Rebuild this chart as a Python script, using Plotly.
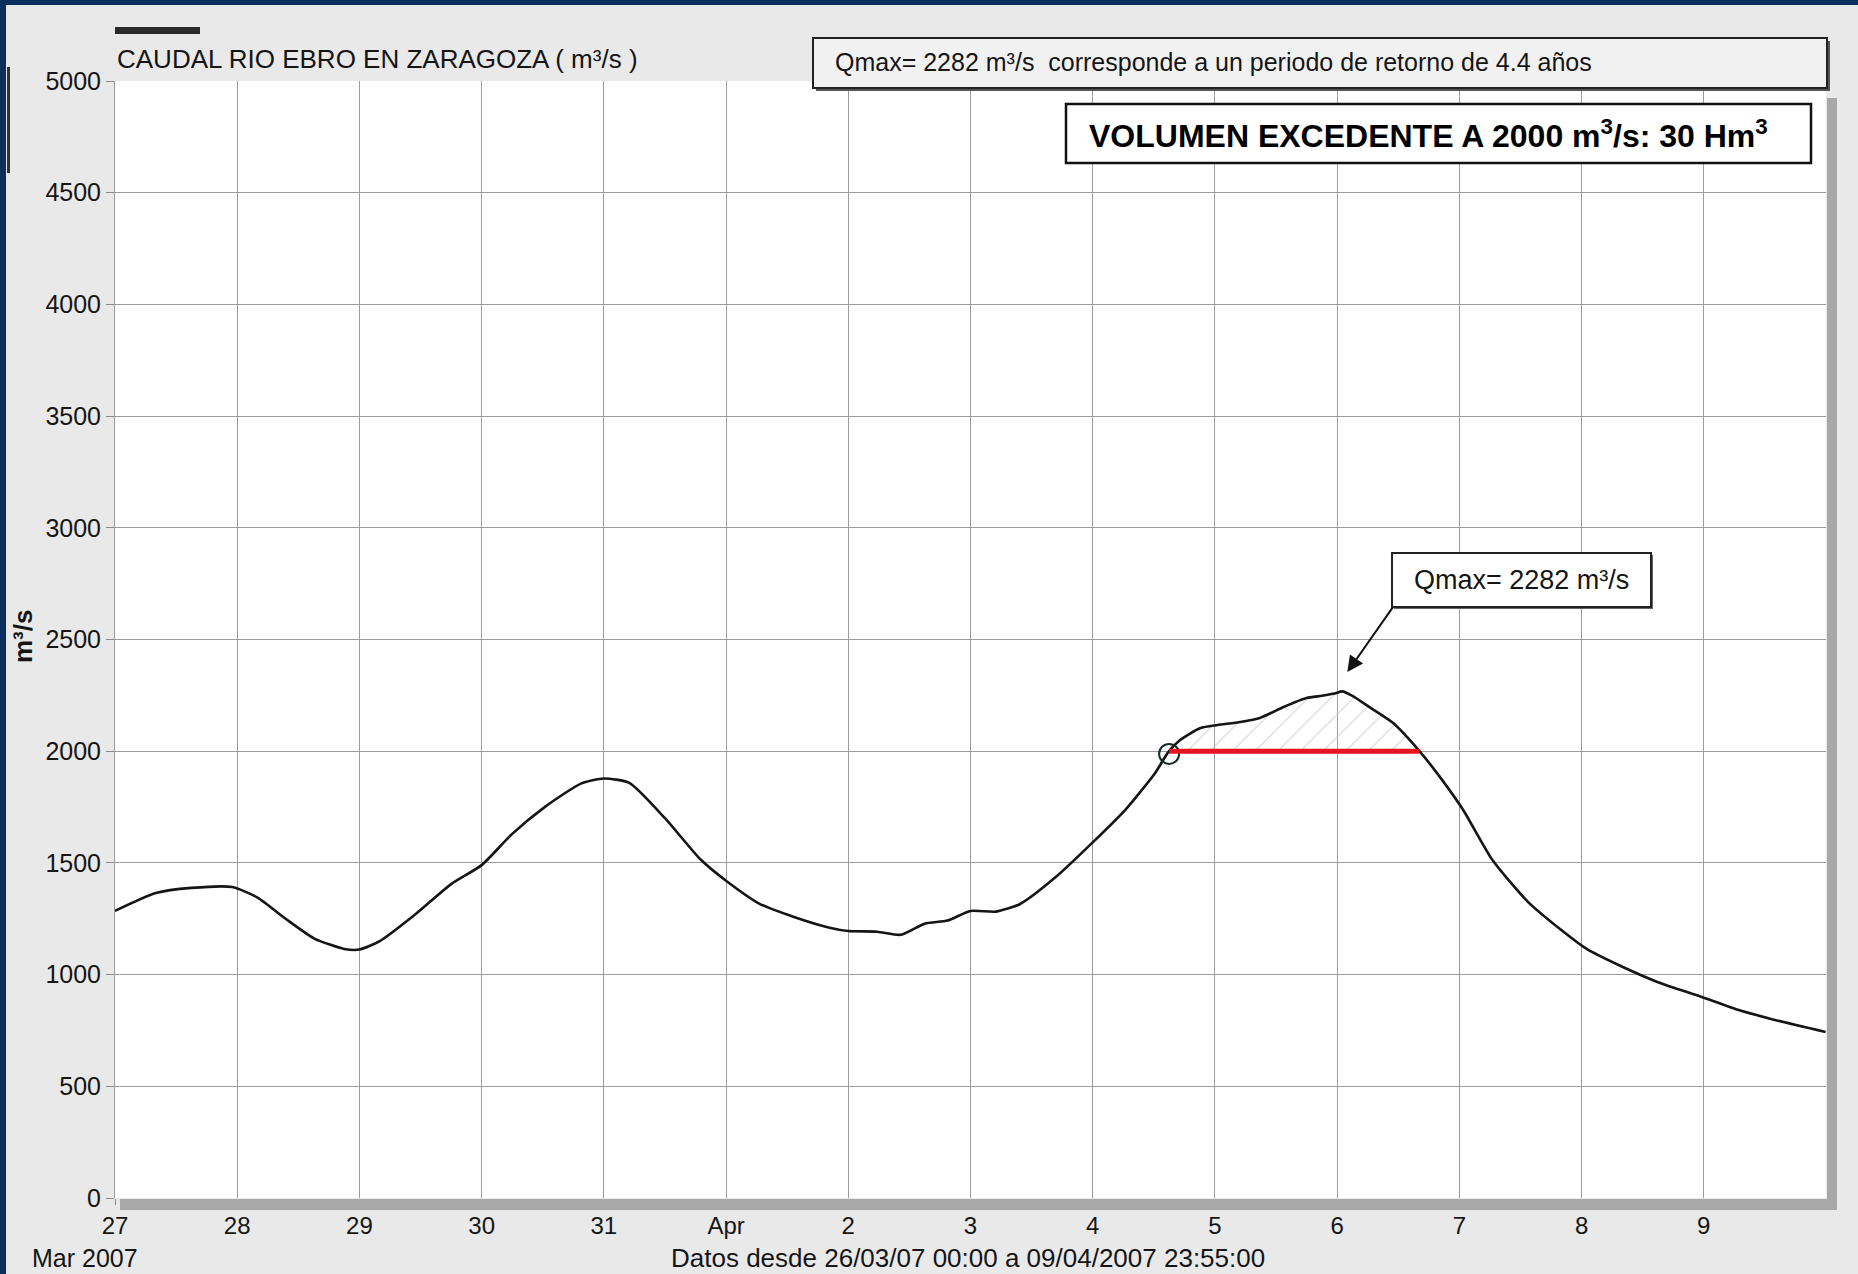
import numpy as np
import pandas as pd
import plotly.graph_objects as go

# ---------------- data ----------------
times = [
    "2007-03-27 00:00", "2007-03-27 08:00", "2007-03-27 15:00", "2007-03-27 23:00",
    "2007-03-28 04:00", "2007-03-28 09:30", "2007-03-28 15:15", "2007-03-28 21:00",
    "2007-03-29 00:00", "2007-03-29 04:00", "2007-03-29 11:00", "2007-03-29 18:00",
    "2007-03-30 00:00", "2007-03-30 06:00", "2007-03-30 12:30", "2007-03-30 19:30",
    "2007-03-31 00:00", "2007-03-31 05:00", "2007-03-31 12:00", "2007-03-31 19:00",
    "2007-04-01 00:00", "2007-04-01 06:30", "2007-04-01 13:20", "2007-04-01 20:20",
    "2007-04-02 00:00", "2007-04-02 05:40", "2007-04-02 10:20", "2007-04-02 15:00",
    "2007-04-02 19:30", "2007-04-03 00:00", "2007-04-03 05:00", "2007-04-03 09:40",
    "2007-04-03 16:30", "2007-04-04 00:00", "2007-04-04 06:30", "2007-04-04 12:20",
    "2007-04-04 14:50", "2007-04-04 17:10", "2007-04-04 21:10", "2007-04-05 00:30",
    "2007-04-05 05:00", "2007-04-05 08:50", "2007-04-05 13:30", "2007-04-05 18:00",
    "2007-04-05 21:00", "2007-04-05 23:30", "2007-04-06 01:00", "2007-04-06 03:00",
    "2007-04-06 06:30", "2007-04-06 11:00",
    "2007-04-06 16:20", "2007-04-06 20:10", "2007-04-07 00:45", "2007-04-07 06:30",
    "2007-04-07 13:25", "2007-04-07 20:20", "2007-04-08 01:00", "2007-04-08 08:00",
    "2007-04-08 15:00", "2007-04-08 23:20", "2007-04-09 07:10", "2007-04-09 14:10",
    "2007-04-09 23:55",
]
flow = [
    1285, 1365, 1388, 1392,
    1345, 1250, 1160, 1115,
    1112, 1150, 1270, 1405,
    1490, 1630, 1752, 1855,
    1878, 1858, 1700, 1515,
    1420, 1318, 1258, 1210,
    1195, 1192, 1178, 1228,
    1242, 1285, 1282, 1315,
    1432, 1592, 1740, 1905,
    1996, 2050, 2104, 2117,
    2131, 2149, 2198, 2238,
    2248, 2258, 2268, 2248,
    2195, 2126,
    1996, 1885, 1737, 1513,
    1327, 1194, 1115, 1035,
    966, 902, 839, 796,
    743,
]
day_ticks = ["2007-03-27", "2007-03-28", "2007-03-29", "2007-03-30", "2007-03-31",
             "2007-04-01", "2007-04-02", "2007-04-03", "2007-04-04", "2007-04-05",
             "2007-04-06", "2007-04-07", "2007-04-08", "2007-04-09"]
day_labels = ["27", "28", "29", "30", "31", "Apr", "2", "3", "4", "5", "6", "7", "8", "9"]
y_ticks = [0, 500, 1000, 1500, 2000, 2500, 3000, 3500, 4000, 4500, 5000]
threshold = 2000
qmax = 2282
volume_hm3 = 30
return_period = 4.4

# ---------------- derived ----------------
t = pd.to_datetime(times)
tn = t.astype("int64").to_numpy().astype(float)
v = np.array(flow, dtype=float)
above = v >= threshold
i_up = int(np.argmax(above))
i_dn = i_up + int(np.argmax(~above[i_up:]))


def crossing(i0, i1):
    frac = (threshold - v[i0]) / (v[i1] - v[i0])
    return pd.Timestamp(int(tn[i0] + frac * (tn[i1] - tn[i0])))


t_start = crossing(i_up - 1, i_up)
t_end = crossing(i_dn - 1, i_dn)
hatch_x = [t_start] + list(t[i_up:i_dn]) + [t_end]
hatch_y = [threshold] + list(v[i_up:i_dn]) + [threshold]
i_peak = int(np.argmax(v))
t_peak = t[i_peak]
v_peak = v[i_peak]

FONT = "Liberation Sans, Arial, sans-serif"
INK = "#151515"

fig = go.Figure()

# hatched excess area
fig.add_trace(go.Scatter(x=hatch_x, y=[threshold] * len(hatch_x), mode="lines",
                         line=dict(width=0), hoverinfo="skip", showlegend=False))
fig.add_trace(go.Scatter(x=hatch_x, y=hatch_y, mode="lines", fill="tonexty",
                         line=dict(width=0, shape="spline", smoothing=0.6),
                         fillcolor="rgba(0,0,0,0)",
                         fillpattern=dict(shape="/", fgcolor="#c4c4c4", bgcolor="rgba(0,0,0,0)",
                                          size=16, solidity=0.1),
                         hoverinfo="skip", showlegend=False))

# main hydrograph
fig.add_trace(go.Scatter(x=t, y=v, mode="lines",
                         line=dict(color=INK, width=2.6, shape="spline", smoothing=0.6),
                         showlegend=False))

# circle at threshold crossing
fig.add_trace(go.Scatter(x=[t_start], y=[threshold - 12], mode="markers",
                         marker=dict(symbol="circle-open", size=20, color="#1a2a2a",
                                     line=dict(width=2)),
                         showlegend=False))

shapes = []
# red threshold line
shapes.append(dict(type="line", xref="x", yref="y", x0=t_start, x1=t_end,
                   y0=threshold, y1=threshold, line=dict(color="#e8131f", width=5),
                   layer="above"))

W, H = 1858, 1274
L, R, T, B = 115, 32, 81, 76
pw, ph = W - L - R, H - T - B


def px(xp):
    return (xp - L) / pw


def py(yp):
    return (H - B - yp) / ph


# scanned-page blue borders
shapes.append(dict(type="rect", xref="paper", yref="paper", x0=px(0), x1=px(6), y0=py(H), y1=py(0),
                   fillcolor="#0a2f5e", line=dict(width=0)))
shapes.append(dict(type="rect", xref="paper", yref="paper", x0=px(0), x1=px(W), y0=py(5), y1=py(0),
                   fillcolor="#0a2f5e", line=dict(width=0)))
# small artefacts
shapes.append(dict(type="rect", xref="paper", yref="paper", x0=px(7), x1=px(10), y0=py(173), y1=py(67),
                   fillcolor="#333333", line=dict(width=0)))
shapes.append(dict(type="rect", xref="paper", yref="paper", x0=px(115), x1=px(200), y0=py(34), y1=py(27),
                   fillcolor="#2a2a2a", line=dict(width=0)))
# frame shadow (bottom and right grey bands)
shapes.append(dict(type="rect", xref="paper", yref="paper", x0=px(120), x1=px(1837), y0=py(1210), y1=py(1199),
                   fillcolor="#a8a8a8", line=dict(width=0)))
shapes.append(dict(type="rect", xref="paper", yref="paper", x0=px(1827), x1=px(1837), y0=py(1210), y1=py(98),
                   fillcolor="#a8a8a8", line=dict(width=0)))

# box 1 (return period)
shapes.append(dict(type="rect", xref="paper", yref="paper", x0=px(816), x1=px(1830), y0=py(91), y1=py(41),
                   fillcolor="#555555", line=dict(width=0), layer="above"))
shapes.append(dict(type="rect", xref="paper", yref="paper", x0=px(813), x1=px(1827), y0=py(88), y1=py(38),
                   fillcolor="#f1f1f1", line=dict(color="#222222", width=2), layer="above"))
# box 2 (volume)
shapes.append(dict(type="rect", xref="paper", yref="paper", x0=px(1066), x1=px(1811), y0=py(163), y1=py(104),
                   fillcolor="white", line=dict(color="#111111", width=2.5), layer="above"))
# box 3 (Qmax)
shapes.append(dict(type="rect", xref="paper", yref="paper", x0=px(1394), x1=px(1653), y0=py(609), y1=py(555),
                   fillcolor="#666666", line=dict(width=0), layer="above"))
shapes.append(dict(type="rect", xref="paper", yref="paper", x0=px(1392), x1=px(1651), y0=py(607), y1=py(553),
                   fillcolor="white", line=dict(color="#222222", width=2), layer="above"))

annotations = [
    dict(text="CAUDAL RIO EBRO EN ZARAGOZA ( m³/s )", xref="paper", yref="paper",
         x=px(115), y=py(59), xanchor="left", yanchor="middle", showarrow=False,
         font=dict(family=FONT, size=26, color=INK)),
    dict(text=f"Qmax= {qmax} m³/s  corresponde a un periodo de retorno de {return_period} años",
         xref="paper", yref="paper", x=px(833), y=py(62), xanchor="left", yanchor="middle",
         showarrow=False, font=dict(family=FONT, size=25, color=INK)),
    dict(text=f"<b>VOLUMEN EXCEDENTE A {threshold} m<sup>3</sup>/s: {volume_hm3} Hm<sup>3</sup></b>",
         xref="paper", yref="paper", x=px(1087), y=py(134), xanchor="left", yanchor="middle",
         showarrow=False, font=dict(family=FONT, size=32, color="#000000")),
    dict(text=f"Qmax= {qmax} m³/s", xref="paper", yref="paper", x=px(1521), y=py(580),
         xanchor="center", yanchor="middle", showarrow=False,
         font=dict(family=FONT, size=27, color=INK)),
    dict(text=" ", x=t_peak + pd.Timedelta(hours=1), y=v_peak + 86, xref="x", yref="y",
         ax=47, ay=-67, showarrow=True, arrowhead=2, arrowsize=1.6, arrowwidth=2,
         arrowcolor="#111111", standoff=0, startstandoff=0, font=dict(size=2)),
    dict(text="<b>m³/s</b>", xref="paper", yref="paper", x=px(23), y=py(637), textangle=-90,
         xanchor="center", yanchor="middle", showarrow=False,
         font=dict(family=FONT, size=26, color=INK)),
    dict(text="Mar 2007", xref="paper", yref="paper", x=px(85), y=py(1258), xanchor="center",
         yanchor="middle", showarrow=False, font=dict(family=FONT, size=25, color=INK)),
    dict(text="Datos desde 26/03/07 00:00 a 09/04/2007 23:55:00", xref="paper", yref="paper",
         x=px(968), y=py(1258), xanchor="center", yanchor="middle", showarrow=False,
         font=dict(family=FONT, size=26, color=INK)),
]

fig.update_layout(
    width=W, height=H,
    margin=dict(l=L, r=R, t=T, b=B, pad=0),
    paper_bgcolor="#e9e9e9",
    plot_bgcolor="white",
    showlegend=False,
    shapes=shapes,
    annotations=annotations,
    font=dict(family=FONT, color=INK),
)
fig.update_xaxes(
    type="date", range=["2007-03-27", "2007-04-10"],
    tickmode="array", tickvals=day_ticks, ticktext=day_labels,
    showgrid=True, gridcolor="#9c9c9c", gridwidth=1,
    ticks="outside", ticklen=6, tickcolor="#8a8a8a", tickwidth=1,
    tickfont=dict(family=FONT, size=24, color=INK),
    showline=False, zeroline=False,
)
fig.update_yaxes(
    range=[0, 5000], tickmode="array", tickvals=y_ticks,
    showgrid=True, gridcolor="#9c9c9c", gridwidth=1,
    ticks="outside", ticklen=8, tickcolor="#8a8a8a", tickwidth=1,
    tickfont=dict(family=FONT, size=25, color=INK),
    showline=True, linecolor="#9a9a9a", linewidth=1, mirror=False,
    zeroline=False,
)

fig.write_html("out.html", config={"displayModeBar": False},
               post_script="document.body.style.margin='0';")
